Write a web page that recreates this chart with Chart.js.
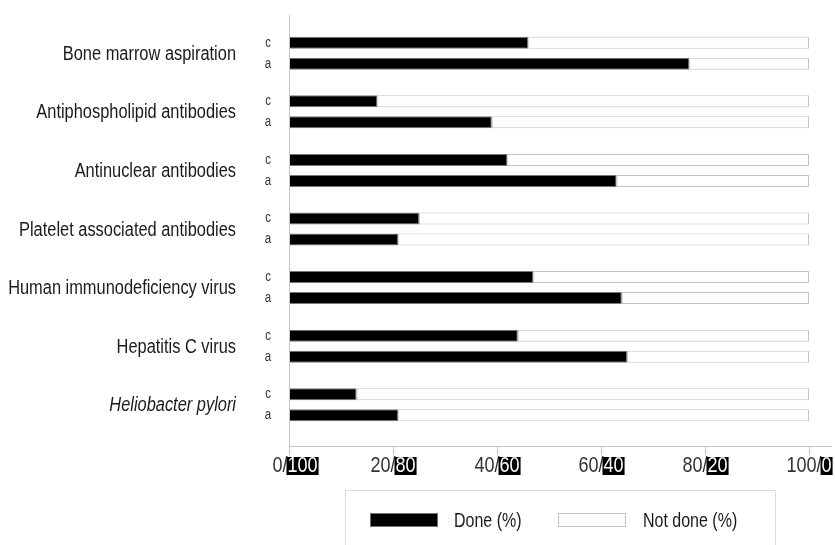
<!DOCTYPE html>
<html>
<head>
<meta charset="utf-8">
<script src="https://cdn.jsdelivr.net/npm/chart.js@4"></script>
<style>
  body { margin: 0; background: #fff; }
  #wrap { width: 835px; height: 545px; }
</style>
</head>
<body>
<div id="wrap"><canvas id="chart" width="835" height="545"></canvas></div>
<script>
const categories = [
    'Bone marrow aspiration',
    'Antiphospholipid antibodies',
    'Antinuclear antibodies',
    'Platelet associated antibodies',
    'Human immunodeficiency virus',
    'Hepatitis C virus',
    'Heliobacter pylori'
];
const groupLabels = ['c', 'a'];
const doneC = [46, 17, 42, 25, 47, 44, 13];
const notDoneC = [54, 83, 58, 75, 53, 56, 87];
const doneA = [77, 39, 63, 21, 64, 65, 21];
const notDoneA = [23, 61, 37, 79, 36, 35, 79];
const xTicks = [0, 20, 40, 60, 80, 100];
const tickLabels = ['0/100', '20/80', '40/60', '60/40', '80/20', '100/0'];
const legendLabels = ['Done (%)', 'Not done (%)'];

// no narrow font installed, so squeeze Liberation Sans to look like Arial Narrow
const FONT = "'Liberation Sans', Arial, sans-serif";
const SQUEEZE = 0.82;

function narrowText(ctx, text, x, y, align) {
    ctx.save();
    ctx.translate(x, y);
    ctx.scale(SQUEEZE, 1);
    ctx.textAlign = align;
    ctx.fillText(text, 0, 0);
    ctx.restore();
}

function narrowWidth(ctx, text) {
    return ctx.measureText(text).width * SQUEEZE;
}

function barSet(label, data, stack, done) {
    return {
        label: label,
        data: data,
        stack: stack,
        backgroundColor: done ? '#000' : '#fff',
        borderColor: done ? '#777' : '#c4c4c4',
        borderWidth: 1,
        borderSkipped: false
    };
}

// axes, labels, c/a markers and the legend box
const decorations = {
    id: 'decorations',
    afterDraw(chart) {
        const ctx = chart.ctx;
        const area = chart.chartArea;
        const x = chart.scales.x;
        const y = chart.scales.y;
        const axisY = 446;
        ctx.save();
        ctx.textBaseline = 'middle';

        ctx.strokeStyle = '#c6c6c6';
        ctx.lineWidth = 1;
        ctx.beginPath();
        ctx.moveTo(area.left + 0.5, 15);
        ctx.lineTo(area.left + 0.5, axisY);
        ctx.moveTo(area.left, axisY + 0.5);
        ctx.lineTo(832, axisY + 0.5);
        xTicks.forEach(v => {
            const px = Math.round(x.getPixelForValue(v)) + 0.5;
            ctx.moveTo(px, axisY);
            ctx.lineTo(px, axisY + 9);
        });
        ctx.stroke();

        // category labels
        ctx.fillStyle = '#1a1a1a';
        categories.forEach((name, i) => {
            ctx.font = (i === 6 ? 'italic ' : '') + '20px ' + FONT;
            narrowText(ctx, name, 236, y.getPixelForValue(i) + 1, 'right');
        });

        // tick labels: second part white on black
        ctx.font = '22px ' + FONT;
        xTicks.forEach((v, i) => {
            const parts = tickLabels[i].split('/');
            const first = parts[0] + '/';
            const w1 = narrowWidth(ctx, first);
            const w2 = narrowWidth(ctx, parts[1]);
            let start = x.getPixelForValue(v) - (w1 + w2) / 2;
            if (i === 0) start += 6;
            ctx.fillStyle = '#333';
            narrowText(ctx, first, start, 466, 'left');
            ctx.fillStyle = '#000';
            ctx.fillRect(start + w1 - 1, 457, w2 + 2, 18);
            ctx.fillStyle = '#fff';
            narrowText(ctx, parts[1], start + w1, 466, 'left');
        });

        // c / a labels next to each bar pair
        ctx.font = '14px ' + FONT;
        ctx.fillStyle = '#333';
        [0, 2].forEach((dsIndex, g) => {
            chart.getDatasetMeta(dsIndex).data.forEach(bar => {
                narrowText(ctx, groupLabels[g], 268, bar.y, 'center');
            });
        });

        // legend
        const ds = chart.data.datasets;
        ctx.strokeStyle = '#dcdcdc';
        ctx.strokeRect(345.5, 490.5, 430, 80);
        ctx.font = '19.5px ' + FONT;
        const items = [{ box: 370, text: 454 }, { box: 558, text: 643 }];
        items.forEach((it, i) => {
            ctx.fillStyle = ds[i].backgroundColor;
            ctx.fillRect(it.box, 513, 68, 14);
            ctx.strokeStyle = ds[i].borderColor;
            ctx.strokeRect(it.box + 0.5, 513.5, 67, 13);
            ctx.fillStyle = '#1a1a1a';
            narrowText(ctx, legendLabels[i], it.text, 522, 'left');
        });
        ctx.restore();
    }
};

new Chart(document.getElementById('chart'), {
    type: 'bar',
    data: {
        labels: categories,
        datasets: [
            barSet(legendLabels[0], doneC, 'c', true),
            barSet(legendLabels[1], notDoneC, 'c', false),
            barSet(legendLabels[0], doneA, 'a', true),
            barSet(legendLabels[1], notDoneA, 'a', false)
        ]
    },
    options: {
        indexAxis: 'y',
        responsive: false,
        animation: false,
        categoryPercentage: 0.717,
        barPercentage: 0.571,
        layout: { padding: { top: 24, bottom: 111, right: 26, left: 0 } },
        plugins: {
            legend: { display: false },
            tooltip: { enabled: false }
        },
        scales: {
            x: {
                display: false,
                stacked: true,
                min: 0,
                max: 100
            },
            y: {
                stacked: true,
                grid: { display: false, drawTicks: false },
                border: { display: false },
                ticks: { display: false },
                afterFit: scale => {
                    scale.width = 289;
                    scale.paddingTop = 0;
                    scale.paddingBottom = 0;
                }
            }
        }
    },
    plugins: [decorations]
});
</script>
</body>
</html>
